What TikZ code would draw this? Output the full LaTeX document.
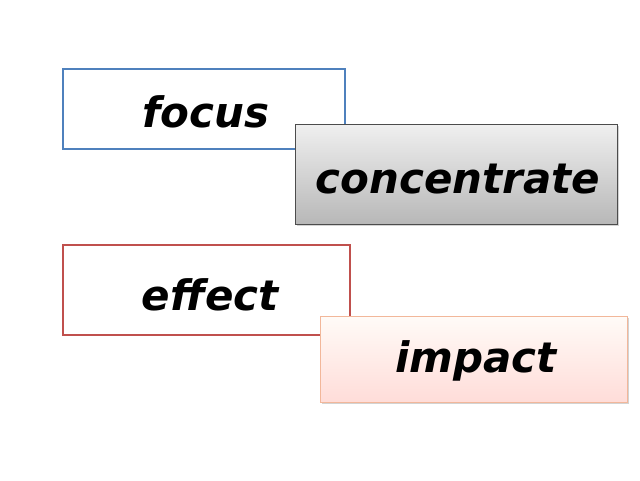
\documentclass[tikz,border=0pt]{standalone}
\usepackage{fontspec}
\setmainfont{DejaVu Sans}
\usetikzlibrary{shadows}
\definecolor{boxblue}{HTML}{4F81BD}
\definecolor{boxred}{HTML}{C0504D}
\definecolor{peachline}{HTML}{F2B79A}
\tikzset{
  word/.style={font=\fontsize{42}{46}\selectfont\bfseries\itshape, text=black},
  plainbox/.style={draw, line width=1.2pt, fill=white},
  shadebox/.style={draw, line width=0.8pt, drop shadow={shadow xshift=1.5pt, shadow yshift=-2pt, opacity=0.35}}
}
\begin{document}
\begin{tikzpicture}[x=1pt, y=-1pt]
  \useasboundingbox (0,0) rectangle (640,480);
  %boxes
  \draw[plainbox, draw=boxblue] (63,69) rectangle (345,149);
  \node[word] (focus) at (206,112) {focus};
  \draw[plainbox, draw=boxred] (63,245) rectangle (350,335);
  \node[word] (effect) at (210,295) {effect};
  \draw[shadebox, draw=black!70, top color=black!6, bottom color=black!28] (295,124) rectangle (617,224);
  \node[word] (concentrate) at (458,179) {concentrate};
  \draw[shadebox, draw=peachline, top color=orange!3, bottom color=orange!20!red!15] (320,316) rectangle (627,402);
  \node[word] (impact) at (476,361) {impact};
\end{tikzpicture}
\end{document}
